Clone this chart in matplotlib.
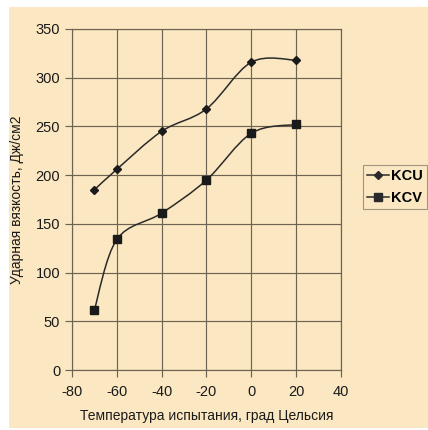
import matplotlib
matplotlib.use("Agg")
import matplotlib.pyplot as plt
from matplotlib.path import Path
from matplotlib.patches import PathPatch, Rectangle
from matplotlib.lines import Line2D
import numpy as np

plt.rcParams["axes.unicode_minus"] = False

temps = [-70, -60, -40, -20, 0, 20]
kcu = [185, 206, 245, 268, 316, 318]
kcv = [62, 134, 161, 195, 243, 252]
series_names = ["KCU", "KCV"]
xticks = [-80, -60, -40, -20, 0, 20, 40]
yticks = [0, 50, 100, 150, 200, 250, 300, 350]
xlabel = "Температура испытания, град Цельсия"
ylabel = "Ударная вязкость, Дж/см2"

W, H = 428, 430
bg = "#fbe8c2"
fig = plt.figure(figsize=(W / 100, H / 100), dpi=100)
fig.patch.set_facecolor("white")
fig.patches.append(Rectangle((9 / W, 1 - 428 / H), (428 - 9) / W, (428 - 7) / H,
                             transform=fig.transFigure, facecolor=bg, edgecolor="none", zorder=-5))

ax = fig.add_axes([72 / W, 1 - 370 / H, (341 - 72) / W, (370 - 29) / H])
ax.set_zorder(1)
ax.set_facecolor(bg)
ax.set_xlim(-80, 40)
ax.set_ylim(0, 350)
ax.set_xticks(xticks)
ax.set_yticks(yticks)
ax.grid(True, color="#6e6352", linewidth=0.85)
ax.set_axisbelow(True)
for s in ax.spines.values():
    s.set_color("#6e6352")
    s.set_linewidth(0.85)
ax.tick_params(colors="#6e6352", length=5, width=0.85, direction="out",
               labelcolor="#1a1a1a", labelsize=10.5)
ax.tick_params(axis="x", pad=6)
for lab in ax.get_xticklabels() + ax.get_yticklabels():
    lab.set_fontfamily("Liberation Sans")

ax.set_xlabel(xlabel, fontsize=10, family="Liberation Sans", color="#1a1a1a", labelpad=7)
ax.set_ylabel(ylabel, fontsize=10, family="Liberation Sans", color="#1a1a1a", labelpad=8)


def smooth_path(xs, ys):
    pts = np.column_stack([xs, ys]).astype(float)
    n = len(pts)
    verts = [pts[0]]
    codes = [Path.MOVETO]
    for i in range(n - 1):
        p0 = pts[i - 1] if i > 0 else pts[i]
        p1 = pts[i]
        p2 = pts[i + 1]
        p3 = pts[i + 2] if i + 2 < n else pts[i + 1]
        c1 = p1 + (p2 - p0) / 6.0
        c2 = p2 - (p3 - p1) / 6.0
        verts += [c1, c2, p2]
        codes += [Path.CURVE4] * 3
    return Path(verts, codes)


line_color = "#2a2a2a"
for vals, mk, ms in [(kcu, "D", 4.5), (kcv, "s", 6)]:
    ax.add_patch(PathPatch(smooth_path(temps, vals), facecolor="none",
                           edgecolor=line_color, linewidth=1.1, zorder=3))
    ax.plot(temps, vals, linestyle="none", marker=mk, markersize=ms,
            color="#1a1a1a", zorder=4, clip_on=False)

handles = [Line2D([], [], color=line_color, marker="D", markersize=4.5, linewidth=1.1),
           Line2D([], [], color=line_color, marker="s", markersize=6, linewidth=1.1)]
leg = fig.legend(handles, series_names, loc="upper left",
                 bbox_to_anchor=(363 / W, 1 - 165 / H), frameon=True,
                 prop={"family": "Liberation Sans", "size": 10.5, "weight": "bold"},
                 handlelength=1.5, handletextpad=0.1, borderpad=0.3,
                 labelspacing=0.5, fancybox=False, borderaxespad=0)
leg.get_frame().set_edgecolor("#8a8070")
leg.get_frame().set_facecolor(bg)
leg.get_frame().set_linewidth(0.8)

fig.savefig("out.png", dpi=100, facecolor=fig.get_facecolor())
